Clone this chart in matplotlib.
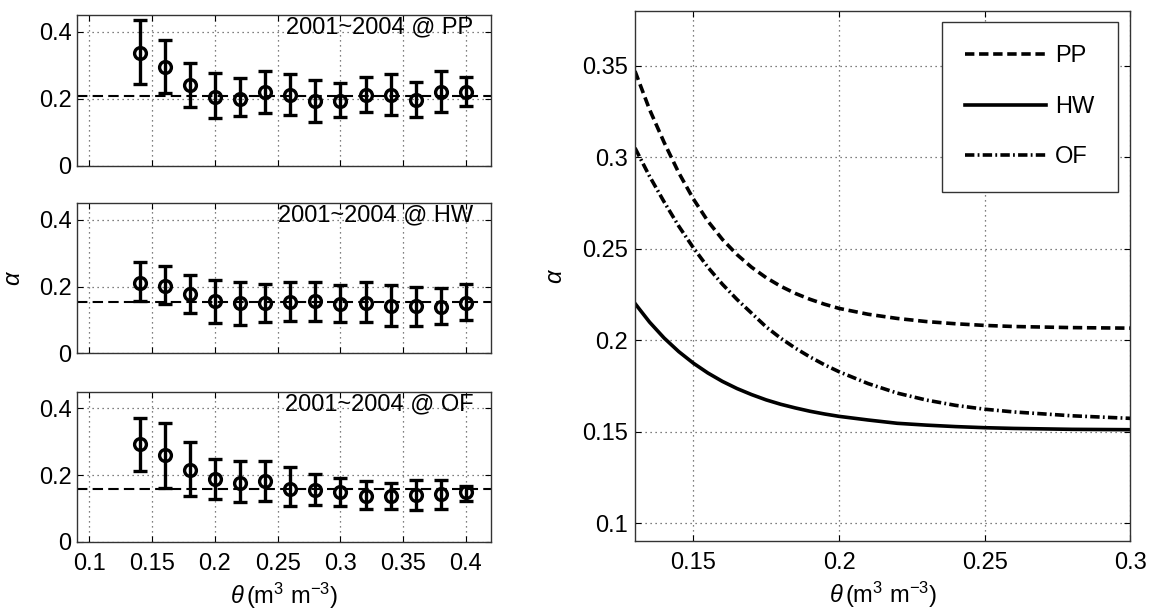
import matplotlib
matplotlib.use("Agg")
from matplotlib import pyplot as plt
from matplotlib.ticker import FormatStrFormatter
import numpy as np

plt.rcParams['font.family'] = ['Liberation Sans', 'DejaVu Sans']
plt.rcParams['mathtext.fontset'] = 'custom'
plt.rcParams['mathtext.rm'] = 'Liberation Sans'
plt.rcParams['mathtext.it'] = 'Liberation Sans:italic'

# ---- left panels: binned alpha vs soil moisture ----
theta = [0.14, 0.16, 0.18, 0.20, 0.22, 0.24, 0.26, 0.28, 0.30, 0.32, 0.34, 0.36, 0.38, 0.40]

pp_mean = [0.336, 0.295, 0.241, 0.207, 0.200, 0.219, 0.213, 0.194, 0.195, 0.213, 0.211, 0.197, 0.221, 0.221]
pp_low = [0.245, 0.217, 0.176, 0.142, 0.149, 0.159, 0.152, 0.131, 0.145, 0.161, 0.151, 0.147, 0.161, 0.179]
pp_high = [0.436, 0.376, 0.306, 0.277, 0.261, 0.283, 0.273, 0.255, 0.247, 0.265, 0.273, 0.251, 0.282, 0.265]

hw_mean = [0.211, 0.203, 0.178, 0.156, 0.150, 0.151, 0.153, 0.156, 0.148, 0.151, 0.142, 0.142, 0.138, 0.152]
hw_low = [0.158, 0.148, 0.121, 0.090, 0.086, 0.094, 0.097, 0.097, 0.094, 0.094, 0.082, 0.082, 0.088, 0.100]
hw_high = [0.275, 0.261, 0.235, 0.221, 0.215, 0.209, 0.215, 0.215, 0.206, 0.213, 0.206, 0.200, 0.195, 0.208]

of_mean = [0.292, 0.259, 0.215, 0.189, 0.178, 0.182, 0.160, 0.155, 0.149, 0.139, 0.137, 0.140, 0.143, 0.150]
of_low = [0.214, 0.163, 0.137, 0.130, 0.119, 0.123, 0.108, 0.112, 0.107, 0.098, 0.100, 0.096, 0.100, 0.123]
of_high = [0.370, 0.356, 0.300, 0.247, 0.242, 0.242, 0.224, 0.204, 0.191, 0.184, 0.178, 0.187, 0.186, 0.167]

ref_level = {'PP': 0.209, 'HW': 0.155, 'OF': 0.158}

# ---- right panel: fitted curves ----
theta_fit = [0.13, 0.135, 0.14, 0.145, 0.15, 0.155, 0.16, 0.165, 0.17, 0.175, 0.18, 0.185,
             0.19, 0.195, 0.20, 0.21, 0.22, 0.23, 0.24, 0.25, 0.26, 0.28, 0.30]
pp_fit = [0.347, 0.326, 0.308, 0.2915, 0.2772, 0.2650, 0.2550, 0.2467, 0.2398, 0.2341, 0.2294, 0.2255,
          0.2223, 0.2196, 0.2173, 0.2141, 0.2118, 0.2101, 0.2089, 0.2080, 0.2074, 0.2068, 0.2065]
hw_fit = [0.2200, 0.2098, 0.2011, 0.1937, 0.1874, 0.1820, 0.1774, 0.1735, 0.1702, 0.1673, 0.1649, 0.1629,
          0.1611, 0.1596, 0.1583, 0.1563, 0.1545, 0.1535, 0.1527, 0.1521, 0.1517, 0.1512, 0.1510]
of_fit = [0.305, 0.2895, 0.2755, 0.2623, 0.2505, 0.2398, 0.2305, 0.2222, 0.2147, 0.2072, 0.2010, 0.1956,
          0.1908, 0.1865, 0.1827, 0.1762, 0.1710, 0.1672, 0.1643, 0.1622, 0.1607, 0.1586, 0.1572]

FS = 17
xlab = r'$\theta\,$(m$^3$ m$^{-3}$)'
spine_c = '#333333'

fig = plt.figure(figsize=(11.52, 6.12), dpi=100)


def style_axes(ax, xpad=8, ypad=4):
    ax.tick_params(direction='in', top=True, right=True, length=4,
                   labelsize=FS, width=0.8, colors='black')
    ax.tick_params(axis='x', pad=xpad)
    ax.tick_params(axis='y', pad=ypad)
    ax.grid(True, linestyle=(0, (1, 3)), color='#555555', linewidth=0.9)
    for s in ax.spines.values():
        s.set_color(spine_c)
        s.set_linewidth(1.0)


left_rects = [[0.0668, 0.7288, 0.3594, 0.2467],
              [0.0668, 0.4227, 0.3594, 0.2451],
              [0.0668, 0.1144, 0.3594, 0.2456]]
sites = ['PP', 'HW', 'OF']
means = [pp_mean, hw_mean, of_mean]
lows = [pp_low, hw_low, of_low]
highs = [pp_high, hw_high, of_high]

for i, rect in enumerate(left_rects):
    ax = fig.add_axes(rect)
    m = np.array(means[i])
    lo = np.array(lows[i])
    hi = np.array(highs[i])
    ax.axhline(ref_level[sites[i]], color='black', lw=1.5, dashes=(5, 2.5), zorder=2)
    ax.errorbar(theta, m, yerr=[m - lo, hi - m], fmt='o', color='black',
                mfc='none', ms=8.5, mew=2.4, elinewidth=2.4, capsize=5,
                capthick=2.4, zorder=3)
    ax.set_xlim(0.09, 0.42)
    ax.set_ylim(0, 0.45)
    ax.set_xticks([0.1, 0.15, 0.2, 0.25, 0.3, 0.35, 0.4])
    ax.set_yticks([0, 0.2, 0.4])
    ax.yaxis.set_major_formatter(FormatStrFormatter('%g'))
    ax.xaxis.set_major_formatter(FormatStrFormatter('%g'))
    style_axes(ax)
    ax.text(0.406, 0.395, '2001~2004 @ ' + sites[i], ha='right', va='baseline',
            fontsize=FS, zorder=5)
    if i < 2:
        ax.tick_params(labelbottom=False)
    else:
        ax.set_xlabel(xlab, fontsize=FS, labelpad=4)
    if i == 1:
        ax.set_ylabel(r'$\alpha$', fontsize=FS)
        ax.yaxis.set_label_coords(-0.125, 0.5)

# right panel
ax = fig.add_axes([0.5512, 0.1155, 0.4301, 0.867])
ax.plot(theta_fit, pp_fit, color='black', lw=2.6, dashes=(2.6, 1.3), label='PP')
ax.plot(theta_fit, hw_fit, color='black', lw=2.6, label='HW')
ax.plot(theta_fit, of_fit, color='black', lw=2.6, dashes=(2.6, 0.9, 0.5, 0.9), label='OF')
ax.set_xlim(0.13, 0.3)
ax.set_ylim(0.09, 0.38)
ax.set_xticks([0.15, 0.2, 0.25, 0.3])
ax.set_yticks([0.1, 0.15, 0.2, 0.25, 0.3, 0.35])
ax.xaxis.set_major_formatter(FormatStrFormatter('%g'))
ax.yaxis.set_major_formatter(FormatStrFormatter('%g'))
style_axes(ax, ypad=5)
ax.set_xlabel(xlab, fontsize=FS, labelpad=4)
ax.set_ylabel(r'$\alpha$', fontsize=FS)
ax.yaxis.set_label_coords(-0.137, 0.5)
leg = ax.legend(loc='upper right', bbox_to_anchor=(0.975, 0.979), borderaxespad=0,
                fontsize=FS, handlelength=3.4, labelspacing=1.2, borderpad=1.0,
                handletextpad=0.4, fancybox=False, framealpha=1)
leg.get_frame().set_edgecolor(spine_c)
leg.get_frame().set_linewidth(1.0)

plt.savefig('out.png', dpi=100)
